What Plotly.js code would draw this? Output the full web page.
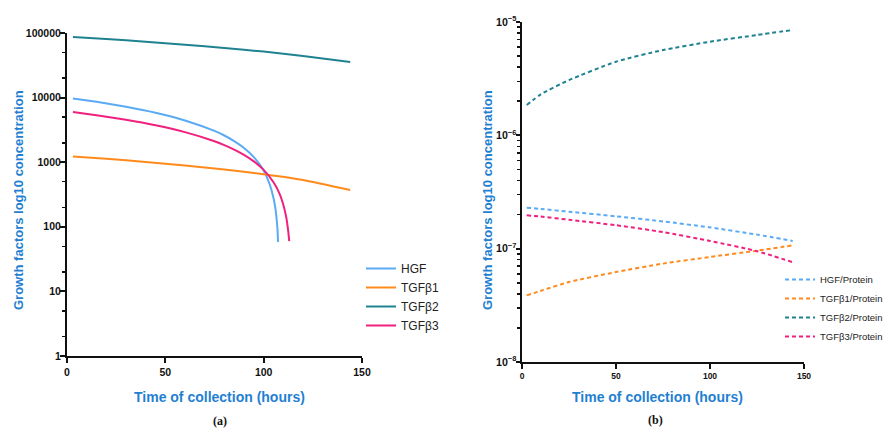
<!DOCTYPE html>
<html>
<head>
<meta charset="utf-8">
<script src="https://cdn.plot.ly/plotly-3.0.1.min.js"></script>
<style>html,body{margin:0;padding:0;background:#fff;overflow:hidden;width:888px;height:428px;}#chart{width:888px;height:428px;overflow:hidden;}</style>
</head>
<body>
<div id="chart"></div>
<script>
// ---- Panel (a): concentrations ----
const hgfT   = [3, 15, 30, 45, 60, 75, 80, 85, 90, 95, 98, 100, 103, 105, 106, 107, 107.3];
const hgfV   = [9700, 8590, 7200, 5820, 4430, 3050, 2590, 2120, 1660, 1200, 920, 740, 460, 280, 190, 95, 58];
const tgf1T  = [3, 20, 40, 60, 80, 100, 120, 144];
const tgf1V  = [1230, 1130, 1010, 890, 770, 650, 530, 370];
const tgf2T  = [3, 20, 40, 60, 80, 100, 120, 144];
const tgf2V  = [87000, 81000, 73500, 66000, 58800, 51500, 44200, 35500];
const tgf3T  = [3, 15, 30, 45, 60, 75, 80, 85, 90, 95, 100, 105, 108, 110, 111.5, 112.5, 113];
const tgf3V  = [6000, 5350, 4540, 3730, 2920, 2110, 1840, 1570, 1300, 1030, 760, 490, 330, 220, 140, 85, 60];

// ---- Panel (b): ratios to protein ----
const ratioT   = [2.5, 10, 25, 50, 75, 100, 125, 144];
const hgfPV    = [2.30e-7, 2.24e-7, 2.12e-7, 1.93e-7, 1.74e-7, 1.54e-7, 1.33e-7, 1.17e-7];
const tgf1PV   = [3.87e-8, 4.25e-8, 5.08e-8, 6.22e-8, 7.38e-8, 8.45e-8, 9.6e-8, 1.07e-7];
const tgf2PV   = [1.85e-6, 2.30e-6, 3.07e-6, 4.46e-6, 5.66e-6, 6.70e-6, 7.68e-6, 8.5e-6];
const tgf3PV   = [1.97e-7, 1.92e-7, 1.80e-7, 1.61e-7, 1.40e-7, 1.17e-7, 9.5e-8, 7.6e-8];

const xTicks = [0, 50, 100, 150];
const yTicksA = [1, 10, 100, 1000, 10000, 100000];
const yTickTextA = ['1', '10', '100', '1000', '10000', '100000'];

const namesA = ['HGF', 'TGFβ1', 'TGFβ2', 'TGFβ3'];
const namesB = ['HGF/Protein', 'TGFβ1/Protein', 'TGFβ2/Protein', 'TGFβ3/Protein'];
const colors = ['#5aaaf5', '#ff8a1c', '#1f8291', '#f0207e'];

const traces = [];
const aT = [hgfT, tgf1T, tgf2T, tgf3T];
const aV = [hgfV, tgf1V, tgf2V, tgf3V];
for (let i = 0; i < 4; i++) {
  traces.push({x: aT[i], y: aV[i], name: namesA[i], type: 'scatter', mode: 'lines',
    line: {color: colors[i], width: 2, shape: 'spline', smoothing: 0.5},
    xaxis: 'x', yaxis: 'y', legend: 'legend'});
}
const bV = [hgfPV, tgf1PV, tgf2PV, tgf3PV];
for (let i = 0; i < 4; i++) {
  traces.push({x: ratioT, y: bV[i], name: namesB[i], type: 'scatter', mode: 'lines',
    line: {color: colors[i], width: 2, dash: '4px,3px', shape: 'spline', smoothing: 0.6},
    xaxis: 'x2', yaxis: 'y2', legend: 'legend2'});
}

const tickFont = {family: 'Liberation Sans, Arial, sans-serif', size: 10.5, color: '#111', weight: 700};
const tickFontB = {family: 'Liberation Sans, Arial, sans-serif', size: 8.5, color: '#111', weight: 700};
const yTitleFont = {family: 'Liberation Sans, Arial, sans-serif', size: 13, color: '#1f80d2', weight: 700};
const xTitleFont = {family: 'Liberation Sans, Arial, sans-serif', size: 14, color: '#1f80d2', weight: 700};
const capFont = {family: 'Liberation Serif, Times New Roman, serif', size: 12, color: '#111', weight: 700};

const commonX = {showgrid: false, zeroline: false, showline: true, linecolor: '#111', linewidth: 2,
  ticks: 'outside', ticklen: 5, tickwidth: 2, tickcolor: '#111', tickvals: xTicks, range: [0, 150], fixedrange: true};

const layout = {
  width: 888, height: 428,
  margin: {l: 0, r: 0, t: 0, b: 0},
  paper_bgcolor: '#fff', plot_bgcolor: '#fff',
  showlegend: true,
  xaxis: Object.assign({}, commonX, {domain: [67/888, 362/888], anchor: 'y', tickfont: tickFont}),
  yaxis: {type: 'log', range: [0, 5], domain: [(428-356)/428, (428-33)/428], anchor: 'x',
    showgrid: false, zeroline: false, showline: true, linecolor: '#111', linewidth: 2,
    ticks: 'outside', ticklen: 5, tickwidth: 2, tickcolor: '#111', ticklabelstandoff: -3,
    tickvals: yTicksA, ticktext: yTickTextA, tickfont: tickFont,
    minor: {ticks: 'outside', ticklen: 3, tickwidth: 1.5, tickcolor: '#111', showgrid: false}},
  xaxis2: Object.assign({}, commonX, {domain: [522/888, 804/888], anchor: 'y2', tickfont: tickFontB}),
  yaxis2: {type: 'log', range: [-8, -5], domain: [(428-362)/428, (428-22)/428], anchor: 'x2',
    showgrid: false, zeroline: false, showline: true, linecolor: '#111', linewidth: 2,
    ticks: 'outside', ticklen: 4, tickwidth: 2, tickcolor: '#111', ticklabelstandoff: -2,
    dtick: 1, exponentformat: 'power', showexponent: 'all',
    tickfont: tickFontB,
    minor: {ticks: 'outside', ticklen: 3, tickwidth: 1.5, tickcolor: '#111', showgrid: false}},
  legend: {x: 361/888, y: (428-254)/428, xanchor: 'left', yanchor: 'top', bgcolor: 'rgba(0,0,0,0)',
    font: {family: 'Liberation Sans, Arial, sans-serif', size: 12, color: '#222'}, itemwidth: 30},
  legend2: {x: 1, y: (428-265)/428, xanchor: 'right', yanchor: 'top', bgcolor: 'rgba(0,0,0,0)',
    font: {family: 'Liberation Sans, Arial, sans-serif', size: 9.5, color: '#222'}, itemwidth: 30},
  annotations: [
    {text: 'Growth factors log10 concentration', xref: 'paper', yref: 'paper', x: 18/888, y: (428-200)/428,
      textangle: -90, showarrow: false, font: yTitleFont, xanchor: 'center', yanchor: 'middle'},
    {text: 'Time of collection (hours)', xref: 'paper', yref: 'paper', x: 219/888, y: (428-397)/428,
      showarrow: false, font: xTitleFont, xanchor: 'center', yanchor: 'middle'},
    {text: 'Growth factors log10 concentration', xref: 'paper', yref: 'paper', x: 487/888, y: (428-200)/428,
      textangle: -90, showarrow: false, font: yTitleFont, xanchor: 'center', yanchor: 'middle'},
    {text: 'Time of collection (hours)', xref: 'paper', yref: 'paper', x: 657/888, y: (428-397)/428,
      showarrow: false, font: xTitleFont, xanchor: 'center', yanchor: 'middle'},
    {text: '(a)', xref: 'paper', yref: 'paper', x: 220/888, y: (428-421)/428,
      showarrow: false, font: capFont, xanchor: 'center', yanchor: 'middle'},
    {text: '(b)', xref: 'paper', yref: 'paper', x: 655/888, y: (428-420)/428,
      showarrow: false, font: capFont, xanchor: 'center', yanchor: 'middle'}
  ]
};

Plotly.newPlot('chart', traces, layout, {displayModeBar: false, staticPlot: true});
</script>
</body>
</html>
